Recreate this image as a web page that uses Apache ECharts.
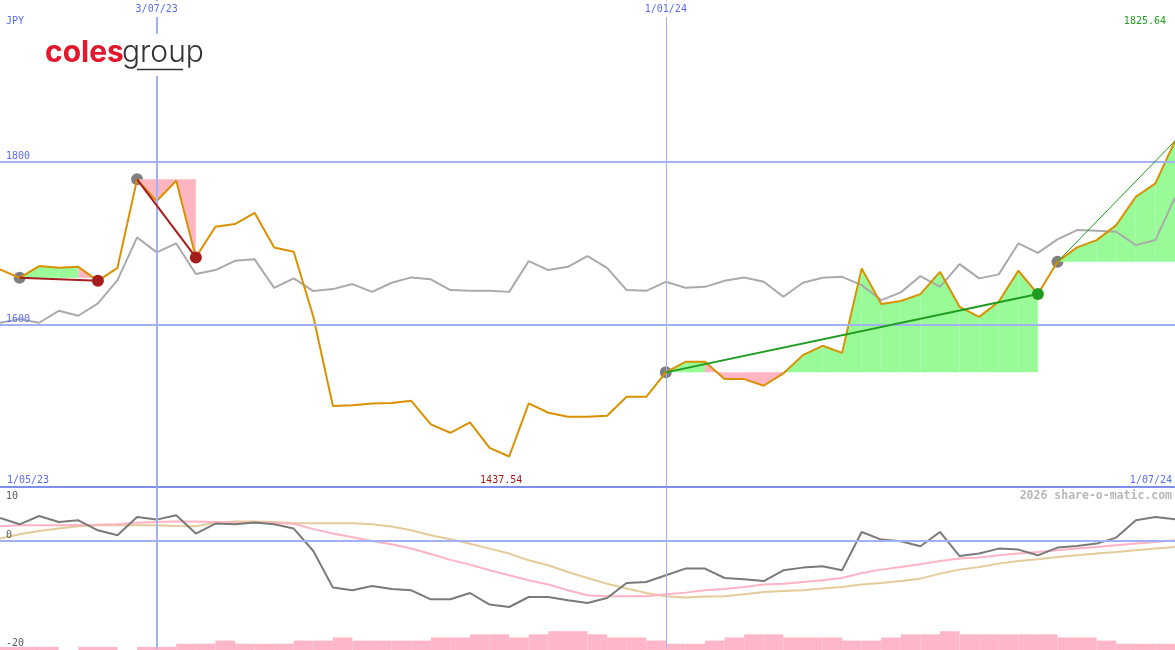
<!DOCTYPE html>
<html><head><meta charset="utf-8">
<script src="https://cdn.jsdelivr.net/npm/echarts@6/dist/echarts.min.js"></script>
<style>html,body{margin:0;padding:0;background:#fff}#c{width:1175px;height:650px}</style>
</head><body><div id="c"></div>
<script>
// ---- data ----
const dates = ['8/05/23','15/05/23','22/05/23','29/05/23','5/06/23','12/06/23','19/06/23','26/06/23',
 '3/07/23','10/07/23','17/07/23','24/07/23','31/07/23','7/08/23','14/08/23','21/08/23','28/08/23',
 '4/09/23','11/09/23','18/09/23','25/09/23','2/10/23','9/10/23','16/10/23','23/10/23','30/10/23',
 '6/11/23','13/11/23','20/11/23','27/11/23','4/12/23','11/12/23','18/12/23','25/12/23',
 '1/01/24','8/01/24','15/01/24','22/01/24','29/01/24','5/02/24','12/02/24','19/02/24','26/02/24',
 '4/03/24','11/03/24','18/03/24','25/03/24','1/04/24','8/04/24','15/04/24','22/04/24','29/04/24',
 '6/05/24','13/05/24','20/05/24','27/05/24','3/06/24','10/06/24','17/06/24','24/06/24','1/07/24'];
const price = [1667.7,1657.3,1671.7,1669.6,1670.8,1653.6,1669.6,1778.4,1751.7,1776.6,
 1682.4,1720.0,1723.4,1737.3,1694.7,1689.3,1609.3,1499.5,1500.7,1502.6,
 1503.2,1506.0,1477.0,1466.7,1479.5,1448.2,1437.54,1502.8,1491.3,1486.3,
 1486.3,1487.6,1511.0,1511.0,1541.0,1554.0,1554.0,1532.7,1532.7,1524.5,
 1539.7,1562.2,1573.7,1565.0,1668.9,1625.0,1628.7,1637.3,1664.7,1621.6,
 1609.3,1627.8,1666.0,1637.3,1677.0,1694.7,1703.7,1722.1,1757.0,1773.4,1825.64];
const peer = [1602,1606.5,1602,1616.7,1610.6,1625.8,1654.5,1707,1688.6,1699.6,
 1661.9,1666.8,1678.2,1680,1645,1656.6,1641,1643.4,1649.6,1640,
 1651.2,1657.8,1655.4,1642.2,1641.3,1641.3,1640,1677.9,1666.8,1670.8,
 1684,1669.6,1642.2,1641.3,1652.4,1645,1646.2,1653.6,1657.8,1652.4,
 1634,1651.2,1657.3,1658.5,1648.3,1629.9,1639.4,1659.4,1646.2,1674.2,
 1656.6,1661.5,1699.6,1688,1704.6,1716,1715.1,1713.9,1697.5,1703.7,1756.2];
const osc = [4.26,3.09,4.63,3.52,3.83,1.98,1.06,4.44,3.96,4.76,
 1.37,3.22,3.09,3.41,3.09,2.3,-1.85,-8.63,-9.13,-8.33,
 -8.9,-9.13,-10.8,-10.8,-9.63,-11.78,-12.22,-10.37,-10.37,-10.98,
 -11.48,-10.56,-7.78,-7.59,-6.35,-5.11,-5.11,-6.85,-7.09,-7.41,
 -5.43,-4.93,-4.69,-5.43,1.67,0.26,-0.06,-0.98,1.67,-2.78,
 -2.33,-1.41,-1.59,-2.65,-1.22,-0.93,-0.48,0.63,3.83,4.44,4.02];
const oscFast = [2.72,2.9,2.9,2.9,2.95,3.0,3.1,3.4,3.5,3.6,
 3.6,3.5,3.4,3.4,3.35,3.2,2.2,1.4,0.7,0.0,
 -0.6,-1.4,-2.4,-3.5,-4.37,-5.43,-6.35,-7.28,-8.07,-9.13,
 -10.06,-10.24,-10.24,-10.24,-9.87,-9.56,-9.13,-8.88,-8.52,-8.07,
 -7.9,-7.59,-7.28,-6.85,-5.92,-5.3,-4.81,-4.31,-3.7,-3.26,
 -3.07,-2.65,-2.33,-2.04,-1.72,-1.41,-1.11,-0.8,-0.48,-0.19,0.13];
const oscSlow = [0.44,1.24,1.85,2.3,2.72,2.9,2.9,2.9,2.9,2.8,
 2.72,3.4,3.59,3.59,3.5,3.3,3.3,3.3,3.3,3.1,
 2.7,1.98,1.06,0.31,-0.5,-1.41,-2.33,-3.57,-4.5,-5.74,
 -6.85,-7.9,-8.81,-9.63,-10.24,-10.48,-10.3,-10.24,-9.87,-9.44,
 -9.26,-9.13,-8.81,-8.52,-8.07,-7.78,-7.41,-6.97,-6.04,-5.3,
 -4.81,-4.19,-3.7,-3.39,-2.96,-2.65,-2.33,-2.04,-1.72,-1.41,-1.11];
const volume = [1,1,1,0,1,1,0,1,1,2, 2,3,2,2,2,3,3,4,3,3,
 3,3,4,4,5,5,4,5,6,6, 5,4,4,3,2,2,3,4,5,5,
 4,4,4,3,3,4,5,5,6,5, 5,5,5,5,4,4,3,2,2,2];
const entryIdx = [1, 7, 34, 54];
const exitIdx = [5, 10, 53, 60];
const exitKind = ['sell', 'sell', 'buy', 'open'];
const markIdx = [8, 34];
const rangeLabels = ['1/05/23', '1/07/24'];
const priceTicks = [1600, 1800];
const oscTicks = [10, 0, -20];
const currency = 'JPY';
const watermark = '2026 share-o-matic.com';

// ---- styles ----
const FONT = "'DejaVu Sans Mono', monospace";
const BLUE = '#5b6cf2';
const GRIDC = '#a3b1f3';
const SEP = '#7f8ff0';
const RED = '#a51d1d';
const GREEN = '#1f9b1f';

const chart = echarts.init(document.getElementById('c'), null, {renderer: 'canvas'});

const fillData = [];
entryIdx.forEach((e, k) => {
  const base = price[e];
  for (let i = e; i < exitIdx[k]; i++) {
    fillData.push([i, i + 1, price[i], price[i + 1], base, price[i + 1] >= base ? 1 : 0]);
  }
});

const trendSeries = entryIdx.map((e, k) => ({
  type: 'line', xAxisIndex: 0, yAxisIndex: 0, z: 5, symbol: 'none', silent: true,
  data: [[e, price[e]], [exitIdx[k], price[exitIdx[k]]]],
  lineStyle: {color: exitKind[k] === 'sell' ? RED : GREEN, width: exitKind[k] === 'open' ? 1 : 2}
}));

const exitData = [];
exitIdx.forEach((x, k) => {
  if (exitKind[k] !== 'open') exitData.push({value: [x, price[x]], itemStyle: {color: exitKind[k] === 'sell' ? RED : GREEN, opacity: 1}});
});

const vLines = markIdx.map((m, k) => ({xAxis: m, lineStyle: {color: GRIDC, width: k === 0 ? 2 : 1, type: 'solid'}}));

const option = {
  animation: false,
  backgroundColor: '#ffffff',
  grid: [
    {left: 0, right: 0, top: 0, height: 487, outerBoundsMode: 'none'},
    {left: 0, right: 0, top: 487, height: 162, outerBoundsMode: 'none'},
    {left: 0, right: 0, top: 487, height: 163, outerBoundsMode: 'none'}
  ],
  xAxis: [
    {type: 'category', gridIndex: 0, data: dates, boundaryGap: false, position: 'top', z: 10,
     axisLine: {show: false}, axisTick: {show: false}, splitLine: {show: false},
     axisLabel: {inside: true, interval: (i) => markIdx.includes(i), color: BLUE, fontFamily: FONT, fontSize: 10,
       margin: 1, backgroundColor: '#ffffff', padding: [3, 2, 3, 2]}},
    {type: 'category', gridIndex: 1, data: dates, boundaryGap: false, show: false},
    {type: 'category', gridIndex: 2, data: dates.slice(0, 60), boundaryGap: true, show: false}
  ],
  yAxis: [
    {type: 'value', gridIndex: 0, min: 1400, max: 1999, interval: 200, z: 10,
     axisLine: {show: false}, axisTick: {show: false}, splitLine: {show: false},
     axisLabel: {inside: true, formatter: (v) => priceTicks.includes(v) ? String(v) : '', color: BLUE,
       fontFamily: FONT, fontSize: 10, margin: 6, verticalAlign: 'bottom'}},
    {type: 'value', gridIndex: 1, min: -20, max: 10, show: false},
    {type: 'value', gridIndex: 2, min: 0, max: 52, show: false}
  ],
  series: [
    {type: 'line', xAxisIndex: 0, yAxisIndex: 0, z: 0, data: price, symbol: 'none', silent: true,
     lineStyle: {opacity: 0},
     markLine: {silent: true, symbol: ['none', 'none'], label: {show: false}, animation: false,
       data: priceTicks.map(t => ({yAxis: t, lineStyle: {color: GRIDC, width: 2, type: 'solid'}}))
         .concat(vLines)
         .concat([{yAxis: 1400, lineStyle: {color: SEP, width: 2, type: 'solid'}}])}},
    {type: 'scatter', xAxisIndex: 0, yAxisIndex: 0, z: 1, silent: true, symbolSize: 12,
     itemStyle: {color: '#7f7f7f', opacity: 1}, data: entryIdx.map(e => [e, price[e]])},
    {type: 'custom', xAxisIndex: 0, yAxisIndex: 0, z: 2, silent: true, data: fillData,
     encode: {x: [0, 1], y: [2, 3, 4]},
     renderItem: function (params, api) {
       const b0 = api.coord([api.value(0), api.value(4)]);
       const p0 = api.coord([api.value(0), api.value(2)]);
       const p1 = api.coord([api.value(1), api.value(3)]);
       const b1 = api.coord([api.value(1), api.value(4)]);
       return {type: 'polygon', shape: {points: [b0, p0, p1, b1]},
         style: {fill: api.value(5) ? '#98fb98' : '#ffb6c1', stroke: null}};
     }},
    {type: 'line', xAxisIndex: 0, yAxisIndex: 0, z: 3, data: peer, symbol: 'none', silent: true,
     lineStyle: {color: '#aaaaaa', width: 2}},
    {type: 'line', xAxisIndex: 0, yAxisIndex: 0, z: 4, data: price, symbol: 'none', silent: true,
     lineStyle: {color: '#d99100', width: 2}},
    ...trendSeries,
    {type: 'scatter', xAxisIndex: 0, yAxisIndex: 0, z: 6, silent: true, symbolSize: 12, data: exitData,
     itemStyle: {opacity: 1}},
    // lower panel
    {type: 'bar', xAxisIndex: 2, yAxisIndex: 2, z: 1, data: volume, barWidth: '100%', barGap: '0%', silent: true,
     itemStyle: {color: '#ffb6c8'}},
    {type: 'line', xAxisIndex: 1, yAxisIndex: 1, z: 0, data: osc, symbol: 'none', silent: true,
     lineStyle: {opacity: 0},
     markLine: {silent: true, symbol: ['none', 'none'], label: {show: false}, animation: false,
       data: [{yAxis: 0, lineStyle: {color: GRIDC, width: 2, type: 'solid'}}].concat(vLines)}},
    {type: 'line', xAxisIndex: 1, yAxisIndex: 1, z: 2, data: oscSlow, symbol: 'none', silent: true,
     lineStyle: {color: '#e3cb9a', width: 2}},
    {type: 'line', xAxisIndex: 1, yAxisIndex: 1, z: 3, data: oscFast, symbol: 'none', silent: true,
     lineStyle: {color: '#ffb3c3', width: 2}},
    {type: 'line', xAxisIndex: 1, yAxisIndex: 1, z: 4, data: osc, symbol: 'none', silent: true,
     lineStyle: {color: '#7a7a7a', width: 2}}
  ]
};
chart.setOption(option);

// ---- texts placed through the axes ----
const toPx = (i, v) => chart.convertToPixel({xAxisIndex: 0, yAxisIndex: 0}, [i, v]);
const yBottom = chart.convertToPixel({yAxisIndex: 0}, 1400);
const minV = Math.min(...price), maxV = Math.max(...price);
const minI = price.indexOf(minV), maxI = price.indexOf(maxV);
const txt = (x, y, text, fill, align, va, extra) => ({type: 'text', x: x, y: y, z: 50,
  style: Object.assign({text: text, fill: fill, font: '10px ' + FONT, align: align, verticalAlign: va}, extra || {})});
const g = [];
g.push(txt(6, 21, currency, BLUE, 'left', 'middle'));
g.push(txt(toPx(maxI, maxV)[0] - 9, 21, maxV.toFixed(2), '#22a022', 'right', 'middle'));
g.push(txt(toPx(minI, minV)[0] - 8, yBottom - 2, minV.toFixed(2), '#a01c1c', 'center', 'bottom'));
g.push(txt(7, yBottom - 2, rangeLabels[0], BLUE, 'left', 'bottom'));
g.push(txt(1172, yBottom - 2, rangeLabels[1], BLUE, 'right', 'bottom'));
g.push(txt(1172, 496, watermark, '#b8b8b8', 'right', 'middle', {font: 'bold 11.5px ' + FONT}));
oscTicks.forEach((t, k) => {
  const py = chart.convertToPixel({yAxisIndex: 1}, t);
  if (k === 0) g.push(txt(6, py + 4, String(t), '#5a5a5a', 'left', 'top'));
  else g.push(txt(6, py - 1, String(t), '#5a5a5a', 'left', 'bottom'));
});
// logo
g.push({type: 'rect', z: 100, shape: {x: 40, y: 34, width: 168, height: 42}, style: {fill: '#ffffff'}});
g.push({type: 'text', z: 101, x: 45, y: 53, style: {text: 'coles', fill: '#e2192c', font: 'bold 30px Inter, "Open Sans", sans-serif', align: 'left', verticalAlign: 'middle'}});
g.push({type: 'text', z: 101, x: 122, y: 53, style: {text: 'group', fill: '#333333', font: '300 30px Inter, "Open Sans", sans-serif', align: 'left', verticalAlign: 'middle'}});
g.push({type: 'line', z: 101, shape: {x1: 137, y1: 69.5, x2: 183, y2: 69.5}, style: {stroke: '#333333', lineWidth: 1.5}});
chart.setOption({graphic: g});
</script>
</body></html>
